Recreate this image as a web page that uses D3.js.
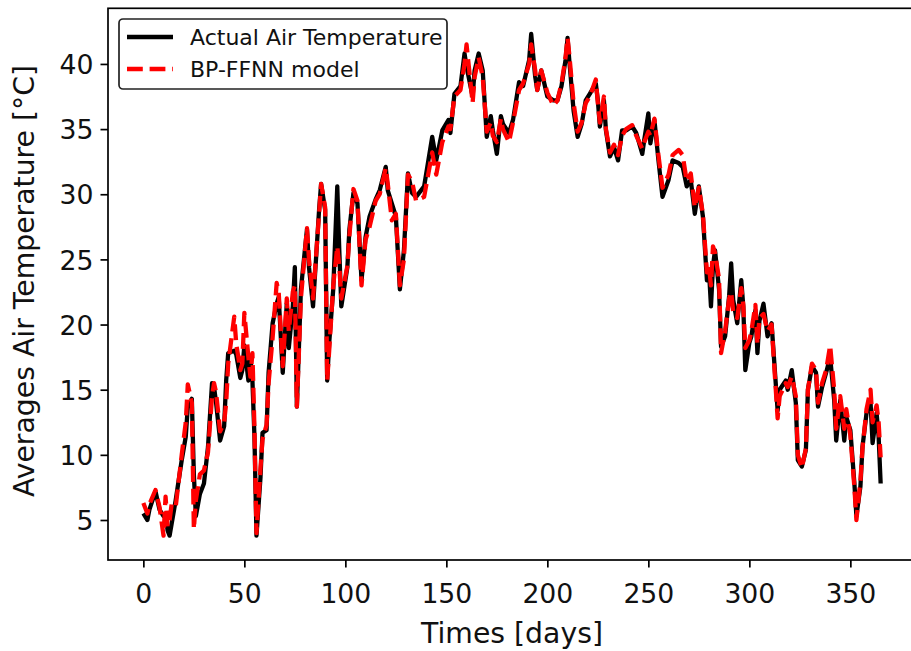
<!DOCTYPE html>
<html>
<head>
<meta charset="utf-8">
<script src="https://cdn.jsdelivr.net/npm/d3@7"></script>
<style>
  html, body { margin: 0; padding: 0; background: #fff; }
  svg { display: block; font-family: "DejaVu Sans", sans-serif; }
</style>
</head>
<body>
<script>
const days = [0,2,3,6,8,10,11,12,13,14,16,19,21,22,24,25,26,28,30,32,34,35,36,38,40,41,42,45,46,48,49,50,52,53,54,55,56,58,59,61,62,64,66,67,69,71,72,74,75,76,78,81,82,84,87,88,90,91,92,94,96,97,98,101,102,104,106,108,110,112,115,117,120,121,123,125,127,129,131,133,135,139,143,145,148,151,152,154,157,159,160,163,164,166,168,170,172,173,175,177,178,181,183,186,188,191,192,194,195,197,200,203,205,207,209,210,211,213,215,217,219,221,224,225,226,228,229,231,233,235,237,239,242,244,247,248,250,251,253,255,257,260,262,265,267,269,271,273,275,277,279,280,281,282,283,285,286,288,290,291,292,294,296,297,298,300,301,303,304,305,307,309,311,314,315,318,319,321,323,324,326,328,329,331,333,334,336,338,340,342,343,345,347,348,350,352,353,355,356,358,360,361,363,364,365];

const actualTemp = [5.5,5.0,5.8,7.2,5.8,5.3,5.5,4.2,3.8,4.7,6.5,9.6,11.4,13.7,14.3,8.5,5.3,7.0,7.8,10.6,15.5,15.2,14.0,11.1,12.2,15.7,17.8,18.0,17.7,15.9,16.5,18.4,15.7,17.5,15.7,11.4,3.8,8.3,11.7,11.9,16.3,20.1,21.6,22.1,16.3,21.6,18.2,21.4,24.4,13.7,22.7,27.3,24.4,21.4,28.8,30.8,28.8,15.7,18.6,22.7,30.6,25.7,21.4,24.4,27.3,30.1,29.3,23.4,26.7,28.3,29.6,30.3,32.1,30.3,29.3,28.3,22.7,25.7,31.6,30.1,29.8,30.6,34.4,32.6,34.9,35.7,34.7,37.7,38.3,40.8,39.8,37.5,39.5,40.8,39.5,34.4,36.0,34.9,33.1,36.0,35.4,34.7,35.7,38.6,38.3,40.3,42.3,39.0,38.0,39.5,37.5,37.2,37.2,38.3,40.3,42.0,40.0,36.4,34.4,35.4,37.2,37.7,38.5,37.2,35.2,37.2,34.9,32.9,33.6,32.6,34.9,34.9,35.2,34.7,33.1,34.2,36.2,33.9,35.7,32.6,29.8,31.1,32.6,32.4,32.1,30.6,31.1,28.5,30.6,28.3,23.4,24.2,21.4,24.5,25.7,22.7,18.3,19.1,22.2,24.7,21.9,20.1,23.4,21.4,16.5,18.6,19.1,21.1,17.8,20.3,21.6,19.1,20.1,13.4,15.0,15.7,15.0,16.5,14.0,9.6,9.1,10.4,15.0,16.8,16.3,13.7,15.2,16.3,17.5,14.2,11.1,14.2,11.1,12.9,11.9,7.8,5.3,7.6,10.6,13.2,14.0,10.9,13.2,11.4,7.8];

const modelTemp = [6.3,5.5,6.2,7.3,6.0,3.8,6.8,4.5,5.0,6.2,6.0,10.0,12.5,15.4,14.0,4.3,6.5,8.5,8.8,10.2,14.5,15.5,14.8,11.8,12.5,14.0,17.0,20.6,18.5,16.5,17.0,20.9,17.5,16.0,17.8,12.0,4.0,9.0,11.2,12.3,15.5,19.0,23.2,22.5,16.8,22.0,19.5,22.5,23.0,13.7,22.0,27.4,25.0,22.0,28.5,30.8,29.0,15.7,18.0,23.0,26.0,24.5,22.0,24.5,26.8,30.4,29.5,23.0,26.5,27.5,29.5,30.0,32.0,30.8,28.0,28.5,23.0,25.0,31.5,31.0,29.5,29.8,33.2,31.5,34.0,35.2,35.0,37.5,38.0,40.0,41.5,37.0,39.0,40.5,39.0,34.8,35.5,34.5,34.0,35.8,35.0,34.0,35.5,38.0,38.5,40.0,41.5,39.5,38.0,39.5,37.8,36.8,37.2,38.5,40.5,42.0,40.5,37.0,34.8,35.5,37.0,37.5,38.8,37.0,35.5,37.5,35.0,33.2,33.8,33.0,34.5,35.0,35.3,34.5,33.5,34.0,34.8,34.5,35.8,33.0,30.5,31.5,33.0,33.4,33.0,31.0,31.6,29.0,30.5,28.5,24.0,24.5,23.0,26.0,25.5,23.5,17.8,19.5,22.0,22.5,21.0,20.5,22.8,21.5,18.2,18.8,19.5,21.5,18.5,20.5,20.8,19.5,20.0,12.8,14.5,15.5,15.2,16.0,14.5,10.0,9.0,10.5,15.0,17.0,16.5,14.0,15.5,16.5,18.4,15.0,12.0,14.5,12.0,13.5,11.5,7.5,5.0,8.0,10.5,13.5,15.0,12.5,13.8,12.5,9.8];

const xTicks = [0, 50, 100, 150, 200, 250, 300, 350];
const yTicks = [5, 10, 15, 20, 25, 30, 35, 40];
const seriesNames = ['Actual Air Temperature', 'BP-FFNN model'];

const width = 911;
const height = 651;
const plotLeft = 108, plotRight = 916, plotTop = 8.3, plotBottom = 560;

const svg = d3.select('body')
              .append('svg')
              .attr('width', width)
              .attr('height', height);

const x = d3.scaleLinear().domain([-17.5, 382.5]).range([plotLeft, plotRight]);
const y = d3.scaleLinear().domain([1.93, 44.27]).range([plotBottom, plotTop]);

svg.append('clipPath')
   .attr('id', 'plot-clip')
   .append('rect')
   .attr('x', plotLeft)
   .attr('y', plotTop)
   .attr('width', plotRight - plotLeft)
   .attr('height', plotBottom - plotTop);

const line = d3.line()
               .x(d => x(d[0]))
               .y(d => y(d[1]));

const actualPoints = days.map((d, i) => [d, actualTemp[i]]);
const modelPoints = days.map((d, i) => [d, modelTemp[i]]);

const plot = svg.append('g').attr('clip-path', 'url(#plot-clip)');

plot.append('path')
    .datum(actualPoints)
    .attr('d', line)
    .attr('fill', 'none')
    .attr('stroke', '#000')
    .attr('stroke-width', 4.3)
    .attr('stroke-linejoin', 'round');

plot.append('path')
    .datum(modelPoints)
    .attr('d', line)
    .attr('fill', 'none')
    .attr('stroke', '#ff0000')
    .attr('stroke-width', 4.3)
    .attr('stroke-dasharray', '15.8,6.8')
    .attr('stroke-linejoin', 'round');

// axes
const xAxis = svg.append('g')
                 .attr('transform', `translate(0,${plotBottom})`)
                 .call(d3.axisBottom(x).tickValues(xTicks).tickSize(7.5).tickPadding(7));
const yAxis = svg.append('g')
                 .attr('transform', `translate(${plotLeft},0)`)
                 .call(d3.axisLeft(y).tickValues(yTicks).tickSize(7.5).tickPadding(7));

[xAxis, yAxis].forEach(ax => {
  ax.select('.domain').remove();
  ax.selectAll('.tick line').attr('stroke', '#000').attr('stroke-width', 1.7);
  ax.selectAll('.tick text')
    .attr('fill', '#111')
    .attr('font-size', 26.7)
    .attr('font-family', '"DejaVu Sans", sans-serif');
});
xAxis.selectAll('.tick text').attr('dy', null).attr('y', 0).attr('transform', 'translate(0,43)');
yAxis.selectAll('.tick text').attr('dy', '0.36em');

// spines
svg.append('rect')
   .attr('x', plotLeft)
   .attr('y', plotTop)
   .attr('width', plotRight - plotLeft)
   .attr('height', plotBottom - plotTop)
   .attr('fill', 'none')
   .attr('stroke', '#000')
   .attr('stroke-width', 1.7);

svg.append('text')
   .attr('x', (plotLeft + plotRight) / 2)
   .attr('y', 643)
   .attr('text-anchor', 'middle')
   .attr('font-size', 28.3)
   .attr('fill', '#111')
   .text('Times [days]');

svg.append('text')
   .attr('transform', 'translate(33.5,281) rotate(-90)')
   .attr('text-anchor', 'middle')
   .attr('font-size', 28.3)
   .attr('fill', '#111')
   .text('Averages Air Temperature [°C]');

// legend
const legend = svg.append('g');
legend.append('rect')
      .attr('x', 119)
      .attr('y', 19)
      .attr('width', 328)
      .attr('height', 70)
      .attr('rx', 4)
      .attr('fill', '#fff')
      .attr('stroke', '#222')
      .attr('stroke-width', 1.7);

const legendRows = legend.selectAll('g.row')
                         .data(seriesNames)
                         .enter()
                         .append('g')
                         .attr('class', 'row')
                         .attr('transform', (d, i) => `translate(0,${37 + i * 32})`);

legendRows.append('line')
          .attr('x1', 127)
          .attr('x2', 173)
          .attr('stroke', (d, i) => i === 0 ? '#000' : '#ff0000')
          .attr('stroke-width', 4.3)
          .attr('stroke-dasharray', (d, i) => i === 0 ? null : '15.8,6.8');

legendRows.append('text')
          .attr('x', 190)
          .attr('y', 8)
          .attr('font-size', 22)
          .attr('fill', '#111')
          .text(d => d);
</script>
</body>
</html>
